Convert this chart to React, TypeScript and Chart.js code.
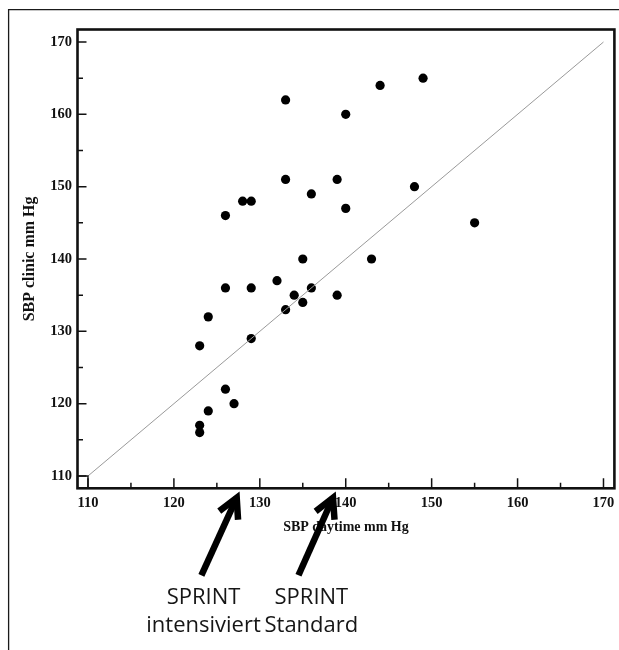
import React, { useEffect, useRef } from "react";
import { Chart, registerables } from "chart.js";

Chart.register(...registerables);

// SBP daytime (x) and SBP clinic (y), mm Hg
const daytimeSBP = [123, 123, 123, 124, 124, 126, 126, 126, 127, 128, 129, 129, 129, 132, 133, 133, 133, 134, 135, 135, 136, 136, 139, 139, 140, 140, 143, 144, 148, 149, 155];
const clinicSBP = [128, 117, 116, 132, 119, 146, 136, 122, 120, 148, 148, 136, 129, 137, 162, 151, 133, 135, 140, 134, 149, 136, 151, 135, 160, 147, 140, 164, 150, 165, 145];

// identity line
const identityX = [110, 170];
const identityY = [110, 170];

// axis ticks
const majorTicks = [110, 120, 130, 140, 150, 160, 170];
const minorTicks = [115, 125, 135, 145, 155, 165];
const xRange = [108.78, 171.27];
const yRange = [108.3, 171.73];

// annotations (arrows pointing to the x axis)
const arrowTipValues = [127.6, 138.8];
const arrowTailValues = [123.2, 134.5];
const labelCenterValues = [123.45, 136.0];
const labelLines = [
  ["SPRINT", "intensiviert"],
  ["SPRINT", "Standard"],
];

const SERIF = '"Liberation Serif", "Times New Roman", serif';

function drawArrow(ctx: CanvasRenderingContext2D, tx: number, ty: number, sx: number, sy: number) {
  const dx = tx - sx;
  const dy = ty - sy;
  const len = Math.hypot(dx, dy);
  const ux = dx / len;
  const uy = dy / len;
  ctx.strokeStyle = "#000";
  ctx.lineWidth = 6.5;
  ctx.lineCap = "butt";
  ctx.beginPath();
  ctx.moveTo(sx, sy);
  ctx.lineTo(tx - ux * 6, ty - uy * 6);
  ctx.stroke();
  const ang = Math.atan2(-uy, -ux);
  const wing = 22;
  const spread = (28 * Math.PI) / 180;
  const px = tx - ux * 6;
  const py = ty - uy * 6;
  ctx.lineJoin = "miter";
  ctx.miterLimit = 10;
  ctx.beginPath();
  ctx.moveTo(px + wing * Math.cos(ang + spread), py + wing * Math.sin(ang + spread));
  ctx.lineTo(px, py);
  ctx.lineTo(px + wing * Math.cos(ang - spread), py + wing * Math.sin(ang - spread));
  ctx.stroke();
}

const decorPlugin = {
  id: "decor",
  beforeDraw(chart: any) {
    const ctx = chart.ctx as CanvasRenderingContext2D;
    ctx.save();
    ctx.fillStyle = "#fff";
    ctx.fillRect(0, 0, chart.width, chart.height);
    ctx.strokeStyle = "#1a1a1a";
    ctx.lineWidth = 1.3;
    ctx.beginPath();
    ctx.moveTo(8.6, chart.height);
    ctx.lineTo(8.6, 9.6);
    ctx.lineTo(chart.width, 9.6);
    ctx.stroke();
    ctx.restore();
  },
  afterDraw(chart: any) {
    const ctx = chart.ctx as CanvasRenderingContext2D;
    const { left, right, top, bottom } = chart.chartArea;
    const xs = chart.scales.x;
    const ys = chart.scales.y;
    ctx.save();
    // tick marks (inward)
    ctx.strokeStyle = "#111";
    ctx.lineWidth = 1.5;
    ctx.beginPath();
    majorTicks.forEach((v) => {
      const x = xs.getPixelForValue(v);
      ctx.moveTo(x, bottom);
      ctx.lineTo(x, bottom - 10);
      const y = ys.getPixelForValue(v);
      ctx.moveTo(left, y);
      ctx.lineTo(left + 9, y);
    });
    minorTicks.forEach((v) => {
      const x = xs.getPixelForValue(v);
      ctx.moveTo(x, bottom);
      ctx.lineTo(x, bottom - 5.5);
      const y = ys.getPixelForValue(v);
      ctx.moveTo(left, y);
      ctx.lineTo(left + 5.5, y);
    });
    ctx.stroke();
    // small square at the origin of the identity line
    ctx.lineWidth = 1.4;
    const sqR = xs.getPixelForValue(identityX[0]);
    const sqT = ys.getPixelForValue(identityY[0]);
    ctx.strokeRect(left, sqT, sqR - left, bottom - sqT);
    // plot frame
    ctx.strokeStyle = "#111";
    ctx.lineWidth = 2.6;
    ctx.strokeRect(left, top, right - left, bottom - top);
    // arrows & labels
    arrowTipValues.forEach((tv, i) => {
      const tx = xs.getPixelForValue(tv);
      const sx = xs.getPixelForValue(arrowTailValues[i]);
      drawArrow(ctx, tx, bottom + 4, sx, bottom + 87);
    });
    ctx.fillStyle = "#161616";
    ctx.font = '22px "Open Sans", "Noto Sans", sans-serif';
    ctx.textAlign = "center";
    ctx.textBaseline = "alphabetic";
    labelLines.forEach((lines, i) => {
      const cx = xs.getPixelForValue(labelCenterValues[i]);
      lines.forEach((t, j) => {
        ctx.fillText(t, cx, bottom + 116 + j * 28);
      });
    });
    ctx.restore();
  },
};

export default function App() {
  const canvasRef = useRef<HTMLCanvasElement | null>(null);

  useEffect(() => {
    const canvas = canvasRef.current;
    if (!canvas) return;
    const H = 650;
    const chart = new Chart(canvas, {
      type: "scatter",
      data: {
        datasets: [
          {
            label: "identity",
            data: identityX.map((x, i) => ({ x, y: identityY[i] })),
            showLine: true,
            borderColor: "#9a9a9a",
            borderWidth: 1,
            pointRadius: 0,
            fill: false,
          },
          {
            label: "patients",
            data: daytimeSBP.map((x, i) => ({ x, y: clinicSBP[i] })),
            backgroundColor: "#000",
            borderColor: "#000",
            borderWidth: 0,
            pointRadius: 4.6,
            pointHoverRadius: 4.6,
          },
        ],
      },
      options: {
        animation: false,
        responsive: false,
        devicePixelRatio: 1,
        layout: { padding: { left: 0, top: 29.5, right: 0.3, bottom: 0 } },
        plugins: { legend: { display: false }, tooltip: { enabled: false } },
        scales: {
          x: {
            type: "linear",
            position: "bottom",
            min: xRange[0],
            max: xRange[1],
            afterBuildTicks: (s: any) => {
              s.ticks = majorTicks.map((v) => ({ value: v }));
            },
            afterFit: (s: any) => {
              s.height = H - 488.3;
              s.paddingLeft = 0;
              s.paddingRight = 0;
            },
            grid: { display: false, drawTicks: false },
            border: { display: false },
            ticks: {
              autoSkip: false,
              maxRotation: 0,
              padding: 6,
              color: "#111",
              font: { family: SERIF, size: 14.5, weight: "bold" },
            },
            title: {
              display: true,
              text: "SBP daytime mm Hg",
              color: "#111",
              font: { family: SERIF, size: 14, weight: "bold" },
              padding: { top: 0, bottom: 114.6 },
            },
          },
          y: {
            type: "linear",
            position: "left",
            min: yRange[0],
            max: yRange[1],
            afterBuildTicks: (s: any) => {
              s.ticks = majorTicks.map((v) => ({ value: v }));
            },
            afterFit: (s: any) => {
              s.width = 77.5;
              s.paddingTop = 0;
              s.paddingBottom = 0;
            },
            grid: { display: false, drawTicks: false },
            border: { display: false },
            ticks: {
              autoSkip: false,
              padding: 5.5,
              color: "#111",
              font: { family: SERIF, size: 14.5, weight: "bold" },
            },
            title: {
              display: true,
              text: "SBP clinic mm Hg",
              color: "#111",
              font: { family: SERIF, size: 16, weight: "bold" },
              padding: { top: 20.4, bottom: 0 },
            },
          },
        },
      },
      plugins: [decorPlugin],
    });
    return () => chart.destroy();
  }, []);

  return (
    <div style={{ position: "fixed", left: 0, top: 0, width: 619, height: 650, background: "#fff" }}>
      <canvas ref={canvasRef} width={619} height={650} style={{ display: "block", width: 619, height: 650 }} />
    </div>
  );
}
